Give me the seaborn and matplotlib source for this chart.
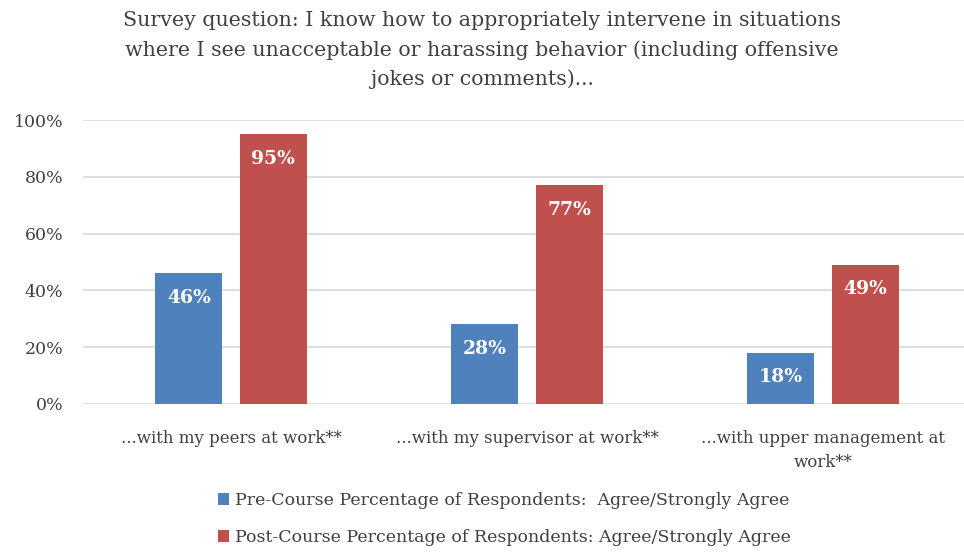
import matplotlib
matplotlib.use('Agg')
import matplotlib.pyplot as plt
import seaborn as sns
import pandas as pd

categories = ["...with my peers at work**",
              "...with my supervisor at work**",
              "...with upper management at\nwork**"]
pre_values = [46, 28, 18]
post_values = [95, 77, 49]
series_names = ["Pre-Course Percentage of Respondents:  Agree/Strongly Agree",
                "Post-Course Percentage of Respondents: Agree/Strongly Agree"]
y_ticks = [0, 20, 40, 60, 80, 100]
title = ("Survey question: I know how to appropriately intervene in situations\n"
         "where I see unacceptable or harassing behavior (including offensive\n"
         "jokes or comments)...")

colors = ["#4F81BD", "#C0504D"]
text_color = "#404040"

rows = []
for c, v in zip(categories, pre_values):
    rows.append({"category": c, "value": v, "series": series_names[0]})
for c, v in zip(categories, post_values):
    rows.append({"category": c, "value": v, "series": series_names[1]})
df = pd.DataFrame(rows)

sns.set_theme(style="white")
plt.rcParams['font.family'] = ['DejaVu Serif']

W, H = 964, 552
fig = plt.figure(figsize=(W / 100, H / 100), dpi=100)
ax = fig.add_axes([83 / W, (H - 404) / H, 888 / W, 284 / H])

sns.barplot(data=df, x="category", y="value", hue="series", order=categories,
            hue_order=series_names, palette=colors, width=0.571, gap=0.208,
            saturation=1, ax=ax, errorbar=None, linewidth=0)

ax.set_xlim(-0.5, 2.5)
ax.set_ylim(0, 100)
ax.set_yticks(y_ticks)
ax.set_yticklabels([f"{t}%" for t in y_ticks])
ax.set_xlabel("")
ax.set_ylabel("")
for s in ax.spines.values():
    s.set_visible(False)
ax.yaxis.grid(True, color="#D9D9D9", linewidth=1.2)
ax.set_axisbelow(True)
ax.tick_params(axis='y', length=0, pad=14, labelsize=12.5, labelcolor=text_color)
ax.tick_params(axis='x', length=0, pad=19, labelsize=12, labelcolor=text_color)
for lab in ax.get_xticklabels():
    lab.set_linespacing(1.5)

for container in ax.containers:
    for bar in container:
        h = bar.get_height()
        ax.annotate(f"{h:.0f}%", (bar.get_x() + bar.get_width() / 2, h),
                    xytext=(0, -17.5), textcoords="offset points",
                    ha="center", va="center", color="white",
                    fontsize=13.5, fontweight="bold")

handles, labels = ax.get_legend_handles_labels()
ax.legend(handles, labels, loc="center left",
          bbox_to_anchor=(202 / W, (H - 519) / H), bbox_transform=fig.transFigure,
          frameon=False, handlelength=0.65, handleheight=0.65, handletextpad=0.35,
          labelspacing=1.15, fontsize=12.5, labelcolor=text_color)

fig.text(0.5, (H - 50) / H, title, ha="center", va="center", fontsize=14.8,
         color=text_color, linespacing=1.6)

fig.savefig("out.png", dpi=100)
